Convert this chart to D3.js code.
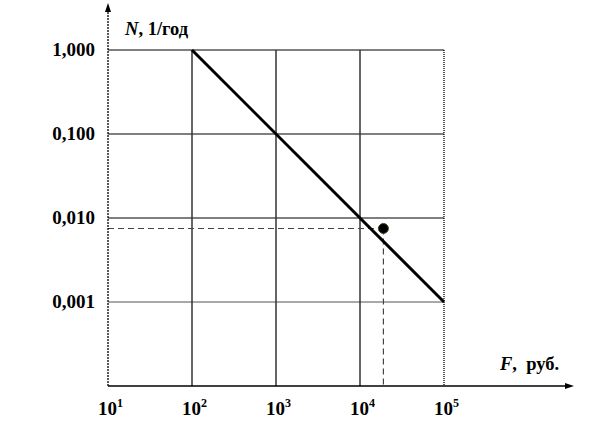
<!DOCTYPE html>
<html><head><meta charset="utf-8">
<script src="https://cdn.jsdelivr.net/npm/d3@7"></script>
<style>body{margin:0;background:#fff}svg{display:block}text{font-family:"Liberation Serif","Times New Roman",serif;font-weight:bold;fill:#000}</style>
</head><body>
<script>
const xTicks = [10, 100, 1000, 10000, 100000];
const xTickExp = ["1", "2", "3", "4", "5"];
const yTicks = [1, 0.1, 0.01, 0.001];
const yTickLabels = ["1,000", "0,100", "0,010", "0,001"];
const lineF = [100, 100000];
const lineN = [1, 0.001];
const pointF = [19000];
const pointN = [0.0075];

const W = 614, H = 428;
const svg = d3.select("body").append("svg").attr("width", W).attr("height", H);
const x = d3.scaleLog().domain([10, 100000]).range([108, 444]);
const y = d3.scaleLog().domain([0.0001, 1]).range([386, 50]);

const g = svg.append("g");
// horizontal grid
g.selectAll(".hg").data(yTicks).join("line")
  .attr("x1", x(10)).attr("x2", x(100000))
  .attr("y1", d => y(d)).attr("y2", d => y(d))
  .attr("stroke", (d,i) => i === 3 ? "#555" : "#000").attr("stroke-width", 1.2);
// vertical grid
g.selectAll(".vg").data(xTicks.slice(1, 4)).join("line")
  .attr("x1", d => x(d)).attr("x2", d => x(d))
  .attr("y1", y(1)).attr("y2", y(0.0001))
  .attr("stroke", "#333").attr("stroke-width", 1.5);
// right dotted edge
g.append("line").attr("x1", x(100000)).attr("x2", x(100000)).attr("y1", y(1)).attr("y2", y(0.0001))
  .attr("stroke", "#000").attr("stroke-width", 1.3).attr("stroke-dasharray", "1,1");

// dashed guides
g.append("line").attr("x1", x(10)).attr("x2", x(pointF[0])).attr("y1", y(pointN[0])).attr("y2", y(pointN[0]))
  .attr("stroke", "#444").attr("stroke-width", 1.2).attr("stroke-dasharray", "6,4");
g.append("line").attr("x1", x(pointF[0])).attr("x2", x(pointF[0])).attr("y1", y(pointN[0])).attr("y2", y(0.0001))
  .attr("stroke", "#444").attr("stroke-width", 1.2).attr("stroke-dasharray", "6,4");

// main line
g.append("path").datum(lineF.map((f,i) => [f, lineN[i]]))
  .attr("d", d3.line().x(d => x(d[0])).y(d => y(d[1])))
  .attr("stroke", "#000").attr("stroke-width", 3).attr("fill", "none");

// point
g.selectAll(".pt").data(pointF).join("circle")
  .attr("cx", d => x(d)).attr("cy", (d,i) => y(pointN[i])).attr("r", 5)
  .attr("fill", "#000").attr("stroke", "#4a4a20").attr("stroke-width", 1);

// axes
g.append("line").attr("x1", x(10)).attr("x2", x(10)).attr("y1", y(0.0001)).attr("y2", 10)
  .attr("stroke", "#000").attr("stroke-width", 1.3).attr("stroke-dasharray", "2,1");
g.append("path").attr("d", `M${x(10)},3 L${x(10)-3},12 L${x(10)+3},12 Z`).attr("fill", "#000");
g.append("line").attr("x1", x(10)).attr("x2", 567).attr("y1", y(0.0001)).attr("y2", y(0.0001))
  .attr("stroke", "#000").attr("stroke-width", 1.5);
g.append("path").attr("d", `M574,${y(0.0001)} L565,${y(0.0001)-3} L565,${y(0.0001)+3} Z`).attr("fill", "#000");

// y labels
g.selectAll(".yl").data(yTicks).join("text")
  .attr("x", 95).attr("y", d => y(d) + 6).attr("text-anchor", "end")
  .attr("font-size", 19).text((d,i) => yTickLabels[i]);

// x labels
const xl = g.selectAll(".xl").data(xTicks).join("text")
  .attr("x", d => x(d) - 10).attr("y", 415).attr("font-size", 19);
xl.append("tspan").text("10");
xl.append("tspan").attr("dy", -8).attr("font-size", 12).text((d,i) => xTickExp[i]);

// axis titles
const ty = g.append("text").attr("x", 125).attr("y", 35).attr("font-size", 18.5);
ty.append("tspan").attr("font-style", "italic").text("N");
ty.append("tspan").text(", 1/год");
const tx = g.append("text").attr("x", 500).attr("y", 370).attr("font-size", 18.5).attr("xml:space", "preserve");
tx.append("tspan").attr("font-style", "italic").text("F");
tx.append("tspan").text(",  руб.");
</script>
</body></html>
